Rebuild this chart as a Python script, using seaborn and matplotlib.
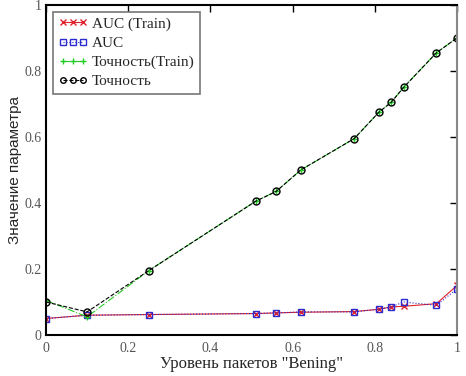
import pandas as pd
import numpy as np
import seaborn as sns
import matplotlib.pyplot as plt

sns.set_style('white')
plt.rcParams['font.family'] = ['Liberation Serif', 'DejaVu Serif']

x = [0, 0.1, 0.25, 0.51, 0.56, 0.62, 0.75, 0.81, 0.84, 0.87, 0.95, 1.0]
auc_train = [0.05, 0.06, 0.062, 0.065, 0.067, 0.069, 0.071, 0.078, 0.085, 0.087, 0.095, 0.15]
auc = [0.05, 0.06, 0.062, 0.065, 0.067, 0.07, 0.07, 0.078, 0.085, 0.1, 0.09, 0.14]
acc_train = [0.105, 0.055, 0.195, 0.405, 0.435, 0.5, 0.595, 0.675, 0.705, 0.75, 0.855, 0.9]
acc = [0.1, 0.07, 0.195, 0.405, 0.435, 0.5, 0.595, 0.675, 0.705, 0.75, 0.855, 0.9]

series = [
    ('AUC (Train)', auc_train, '#e0202a', '-', 'x'),
    ('AUC', auc, '#2b2bd0', ':', 's'),
    ('Точность(Train)', acc_train, '#22cc22', '-.', '+'),
    ('Точность', acc, 'black', '--', 'o'),
]

fig = plt.figure(figsize=(4.66, 3.76), dpi=100)
ax = fig.add_axes([0.0987, 0.109, 0.882, 0.878])

for name, vals, col, ls, mk in series:
    df = pd.DataFrame({'x': x, 'y': vals})
    sns.lineplot(data=df, x='x', y='y', ax=ax, color=col, linestyle=ls, lw=0.8,
                 marker=mk, markersize=5, markerfacecolor='none',
                 markeredgecolor=col, markeredgewidth=1, label=name)

ax.set_xlim(0, 1)
ax.set_ylim(0, 1)
ax.set_xticks([0, 0.2, 0.4, 0.6, 0.8, 1])
ax.set_xticklabels(['0', '0.2', '0.4', '0.6', '0.8', '1'])
ax.set_yticks([0, 0.2, 0.4, 0.6, 0.8, 1])
ax.set_yticklabels(['0', '0.2', '0.4', '0.6', '0.8', '1'])
ax.tick_params(direction='in', length=5, width=1, top=True, right=True,
               labelsize=10, colors='black', labelcolor='#555555', pad=3)
ax.tick_params(axis='x', pad=5)
for s in ax.spines.values():
    s.set_visible(True)
    s.set_color('black')
    s.set_linewidth(1.5)
ax.spines['right'].set_color('#888888')

ax.set_xlabel('Уровень пакетов "Bening"', fontsize=12)
ax.set_ylabel('Значение параметра', fontsize=11, family=['Liberation Sans', 'DejaVu Sans'])
ax.xaxis.labelpad = 1
ax.yaxis.labelpad = 2

leg = ax.legend(loc='upper left', fontsize=11, numpoints=3, handlelength=1.9,
                handletextpad=0.3, borderpad=0.35, labelspacing=0.35,
                fancybox=False, framealpha=1, edgecolor='#777777',
                borderaxespad=0.45, markerscale=0.8)
leg.get_frame().set_linewidth(1.2)

fig.savefig('out.png', dpi=100)
